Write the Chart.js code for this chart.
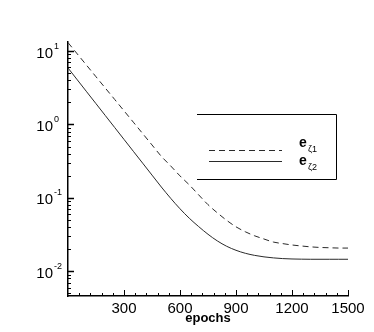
<!DOCTYPE html>
<html>
<head>
<meta charset="utf-8">
<script src="https://cdn.jsdelivr.net/npm/chart.js@4/dist/chart.umd.min.js"></script>
<style>
  html, body { margin: 0; padding: 0; background: #fff; }
  canvas { display: block; }
</style>
</head>
<body>
<canvas id="chart" width="374" height="332"></canvas>
<script>
// ── Data ──────────────────────────────────────────────────────────────
const epochs = [0, 50, 100, 150, 200, 250, 300, 350, 400, 450, 500, 550, 600, 650, 700, 750,
                800, 850, 900, 950, 1000, 1050, 1100, 1150, 1200, 1250, 1300, 1350, 1400, 1450, 1500];

// e_ζ1 (dashed)
const eZeta1 = [13.05, 9.13, 6.39, 4.47, 3.13, 2.195, 1.536, 1.075, 0.752, 0.526, 0.368, 0.2725, 0.1992, 0.1502, 0.1099, 0.0808,
                0.0625, 0.0494, 0.0403, 0.0345, 0.0304, 0.0275, 0.0250, 0.0238, 0.0228, 0.0221, 0.0215, 0.0211, 0.0209, 0.0207, 0.0207];

// e_ζ2 (solid)
const eZeta2 = [5.885, 4.052, 2.789, 1.920, 1.322, 0.910, 0.626, 0.431, 0.297, 0.2043, 0.1406, 0.0987, 0.0710, 0.0527, 0.0406, 0.0319,
                0.0259, 0.0219, 0.0193, 0.01757, 0.01645, 0.0157, 0.01521, 0.01488, 0.0147, 0.01461, 0.01456, 0.01456, 0.01456, 0.01456, 0.01456];

const seriesNames = ['e', 'e'];
const seriesSubs  = ['ζ1', 'ζ2'];
const xLabelTicks = [300, 600, 900, 1200, 1500];
const yDecades    = [-2, -1, 0, 1];
const xTitle      = 'epochs';

// ── Styles ────────────────────────────────────────────────────────────
const INK    = '#000';
const LINE   = '#2a2a2a';
const NARROW = '"Liberation Sans Narrow", "Arial Narrow", "Liberation Sans", sans-serif';
const SANS   = '"Liberation Sans", Arial, sans-serif';

// ── Inward ticks + y labels + legend ─────────────────────────────────
const decorations = {
    id: 'decorations',
    afterDraw(chart) {
        const ctx = chart.ctx;
        const xs = chart.scales.x, ys = chart.scales.y;
        const a = chart.chartArea;
        ctx.save();
        ctx.strokeStyle = INK;

        // x ticks, pointing up into the plot
        ctx.lineWidth = 1;
        for (let v = 60; v <= 1500; v += 60) {
            const px = Math.round(xs.getPixelForValue(v)) + 0.5;
            const len = v % 300 === 0 ? 6 : 3;
            ctx.beginPath();
            ctx.moveTo(px, a.bottom);
            ctx.lineTo(px, a.bottom - len);
            ctx.stroke();
        }

        // y ticks, pointing right into the plot
        for (let d = -3; d <= 1; d++) {
            for (let m = 1; m <= 9; m++) {
                const v = m * Math.pow(10, d);
                if (v < ys.min || v > ys.max) continue;
                const py = Math.round(ys.getPixelForValue(v)) + 0.5;
                const len = m === 1 ? 6 : 3;
                ctx.lineWidth = m === 1 ? 1.5 : 1;
                ctx.beginPath();
                ctx.moveTo(a.left, py);
                ctx.lineTo(a.left + len, py);
                ctx.stroke();
            }
        }

        // y labels 10^n
        ctx.fillStyle = INK;
        yDecades.forEach(d => {
            const py = ys.getPixelForValue(Math.pow(10, d));
            ctx.font = '15px ' + NARROW;
            ctx.textAlign = 'right';
            ctx.textBaseline = 'alphabetic';
            ctx.fillText('10', a.left - 15, py + 6.5);
            ctx.font = '9px ' + NARROW;
            ctx.textAlign = 'left';
            ctx.fillText(String(d), a.left - 14, py - 2.5);
        });

        // legend box (top, right, bottom edges)
        ctx.lineWidth = 1;
        ctx.beginPath();
        ctx.moveTo(197, 114.5);
        ctx.lineTo(336.5, 114.5);
        ctx.lineTo(336.5, 179.5);
        ctx.lineTo(197, 179.5);
        ctx.stroke();

        const rows = [{ y: 150.5, dash: [6, 4], base: 147 }, { y: 161.5, dash: [], base: 165 }];
        rows.forEach((r, i) => {
            ctx.strokeStyle = LINE;
            ctx.setLineDash(r.dash);
            ctx.beginPath();
            ctx.moveTo(209, r.y);
            ctx.lineTo(282, r.y);
            ctx.stroke();
            ctx.setLineDash([]);
            ctx.fillStyle = INK;
            ctx.textAlign = 'left';
            ctx.font = 'bold 14px ' + SANS;
            ctx.fillText(seriesNames[i], 299, r.base);
            ctx.font = '9px ' + SANS;
            ctx.fillText(seriesSubs[i], 308, r.base + 5);
        });
        ctx.restore();
    }
};

new Chart(document.getElementById('chart'), {
    type: 'line',
    data: {
        datasets: [
            {
                label: 'eζ1',
                data: epochs.map((x, i) => ({ x, y: eZeta1[i] })),
                borderColor: LINE, borderWidth: 1, borderDash: [6, 4],
                pointRadius: 0, cubicInterpolationMode: 'monotone', fill: false
            },
            {
                label: 'eζ2',
                data: epochs.map((x, i) => ({ x, y: eZeta2[i] })),
                borderColor: LINE, borderWidth: 1,
                pointRadius: 0, cubicInterpolationMode: 'monotone', fill: false
            }
        ]
    },
    options: {
        responsive: false,
        animation: false,
        devicePixelRatio: 1,
        layout: { padding: { top: 42, right: 26, left: 0, bottom: 0 } },
        plugins: { legend: { display: false }, tooltip: { enabled: false } },
        scales: {
            x: {
                type: 'linear', min: 0, max: 1500,
                grid: { display: false, drawTicks: false },
                border: { display: true, color: INK, width: 1.5 },
                ticks: {
                    stepSize: 60, autoSkip: false, maxRotation: 0, padding: 4,
                    color: INK, font: { family: NARROW, size: 15 },
                    callback: v => xLabelTicks.includes(v) ? String(v) : ''
                },
                title: {
                    display: true, text: xTitle, color: INK,
                    font: { family: SANS, size: 13, weight: 'bold' },
                    padding: { top: 0, bottom: 6 }
                },
                afterFit: s => { s.height = 36; }
            },
            y: {
                type: 'logarithmic', min: 0.0046, max: 13.3,
                grid: { display: false, drawTicks: false },
                border: { display: true, color: INK, width: 1.5 },
                ticks: { display: false },
                afterFit: s => { s.width = 68; }
            }
        }
    },
    plugins: [decorations]
});
</script>
</body>
</html>
